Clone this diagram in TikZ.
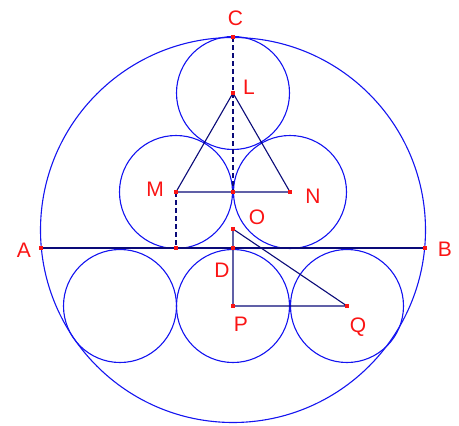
\documentclass[tikz,border=0pt]{standalone}
\usepackage{fontspec}
\setmainfont{Liberation Sans}
\definecolor{cblue}{RGB}{20,20,240}
\definecolor{cnavy}{RGB}{10,10,120}
\definecolor{cred}{RGB}{250,20,20}
\begin{document}
\begin{tikzpicture}[x=1pt,y=-1pt,
  circ/.style={draw=cblue, line width=1.1pt},
  seg/.style={draw=cnavy, line width=1.1pt},
  dseg/.style={seg, dash pattern=on 5pt off 3pt},
  ptmark/.style={fill=cred, minimum size=4.5pt, inner sep=0pt, draw=none, rectangle},
  lab/.style={text=cred, font=\fontsize{21}{21}\selectfont, inner sep=0pt}]
\useasboundingbox (0,0) rectangle (459,426);
% points
\coordinate (O) at (233,229);
\coordinate (Z) at (233,230);
\coordinate (C) at (233,37);
\coordinate (L) at (233,93);
\coordinate (M) at (176,192);
\coordinate (N) at (290,192);
\coordinate (E) at (233,192);
\coordinate (F) at (176,248);
\coordinate (A) at (41,248);
\coordinate (B) at (425,248);
\coordinate (D) at (233,248);
\coordinate (P) at (233,306);
\coordinate (Q) at (347,306);
\coordinate (K1) at (120,306);
% circles
\draw[circ] (Z) circle[radius=192.5];
\draw[circ] (L) circle[radius=56.5];
\draw[circ] (M) circle[radius=56.5];
\draw[circ] (N) circle[radius=56.5];
\draw[circ] (K1) circle[radius=56.5];
\draw[circ] (P) circle[radius=56.5];
\draw[circ] (Q) circle[radius=56.5];
% segments
\draw[seg] (A) -- (B);
\draw[seg] (L) -- (M) -- (N) -- cycle;
\draw[dseg] (C) -- (E);
\draw[dseg] (M) -- (F);
\draw[seg] (O) -- (P) -- (Q) -- cycle;
% point markers
\foreach \p in {C,L,M,N,E,F,A,B,D,O,P,Q}
  \node[ptmark] (m\p) at (\p) {};
% labels
\node[lab] (lC) at (235.5,18) {C};
\node[lab] (lL) at (249,87) {L};
\node[lab] (lM) at (155,189) {M};
\node[lab] (lN) at (313,196) {N};
\node[lab] (lO) at (257,217) {O};
\node[lab] (lA) at (24,250) {A};
\node[lab] (lB) at (445,249) {B};
\node[lab] (lD) at (222,270) {D};
\node[lab] (lP) at (241,324) {P};
\node[lab] (lQ) at (358,327) {Q};
\end{tikzpicture}
\end{document}
